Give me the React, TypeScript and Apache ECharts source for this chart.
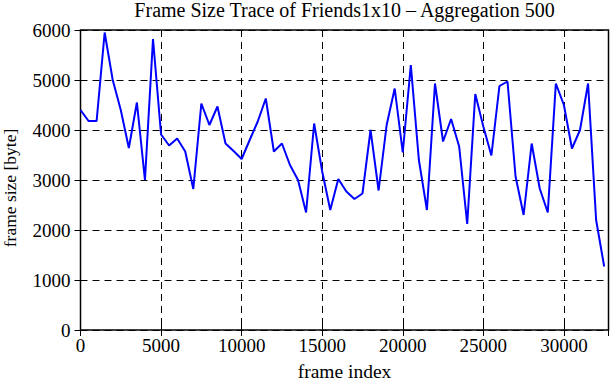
import React, { useEffect, useRef } from "react";
import * as echarts from "echarts";

const frameIndex = [
  0, 500, 1000, 1500, 2000, 2500, 3000, 3500, 4000, 4500,
  5000, 5500, 6000, 6500, 7000, 7500, 8000, 8500, 9000, 9500,
  10000, 10500, 11000, 11500, 12000, 12500, 13000, 13500, 14000, 14500,
  15000, 15500, 16000, 16500, 17000, 17500, 18000, 18500, 19000, 19500,
  20000, 20500, 21000, 21500, 22000, 22500, 23000, 23500, 24000, 24500,
  25000, 25500, 26000, 26500, 27000, 27500, 28000, 28500, 29000, 29500,
  30000, 30500, 31000, 31500, 32000, 32500,
];

const frameSize = [
  4400, 4180, 4180, 5950, 5000, 4400, 3640, 4550, 3000, 5820,
  3910, 3690, 3830, 3570, 2820, 4530, 4100, 4470, 3730, 3580,
  3420, 3800, 4170, 4630, 3570, 3730, 3300, 3000, 2350, 4130,
  3170, 2400, 3020, 2770, 2620, 2730, 4000, 2790, 4100, 4830,
  3550, 5300, 3400, 2400, 4930, 3770, 4220, 3670, 2120, 4720,
  4070, 3490, 4880, 4970, 3070, 2300, 3730, 2830, 2350, 4930,
  4500, 3630, 4000, 4930, 2200, 1270,
];

const titleText = "Frame Size Trace of Friends1x10 \u2013 Aggregation 500";
const xName = "frame index";
const yName = "frame size [byte]";

const FONT = "'Liberation Serif', serif";

export default function App() {
  const ref = useRef<HTMLDivElement>(null);
  useEffect(() => {
    if (!ref.current) return;
    const chart = echarts.init(ref.current, undefined, { renderer: "svg" });
    const data = frameIndex.map((f, i) => [f, frameSize[i]]);
    const gridLine = { show: true, lineStyle: { color: "#000", type: [7, 5] as any, width: 1 } };
    const tickIn = { show: true, inside: true, length: 6, lineStyle: { color: "#000", width: 1 } };
    const label = { color: "#000", fontFamily: FONT, fontSize: 19 };
    const rich = { s: { color: "#000", fontFamily: FONT, fontSize: 19 } };
    chart.setOption({
      animation: false,
      backgroundColor: "#fff",
      textStyle: { fontFamily: FONT, fontSize: 19, color: "#000" },
      graphic: [
        {
          type: "text",
          x: 344.6,
          y: 0,
          style: {
            text: titleText,
            fill: "#000",
            font: `20px ${FONT}`,
            textAlign: "center",
            textVerticalAlign: "top",
          },
        },
        {
          type: "text",
          x: 9.5,
          y: 188,
          rotation: Math.PI / 2,
          style: {
            text: yName,
            fill: "#000",
            font: `17.5px ${FONT}`,
            textAlign: "center",
            textVerticalAlign: "middle",
          },
        },
      ],
      grid: {
        left: 80.5,
        right: 2.5,
        top: 30,
        bottom: 50,
        show: true,
        borderColor: "#000",
        borderWidth: 1.5,
        backgroundColor: "transparent",
        containLabel: false,
        outerBoundsMode: "none",
      },
      xAxis: [
        {
          type: "value",
          min: 0,
          max: 32768,
          interval: 5000,
          position: "bottom",
          axisLine: { show: false },
          axisTick: tickIn,
          splitLine: gridLine,
          axisLabel: {
            ...label,
            rich,
            margin: 6,
            showMaxLabel: false,
            formatter: (v: number) => (v % 5000 === 0 ? `{s|${v}}` : ""),
          },
          name: xName,
          nameLocation: "middle",
          nameGap: 31,
          nameTextStyle: { ...label, fontSize: 19.5 },
        },
        {
          type: "value",
          min: 0,
          max: 32768,
          interval: 5000,
          position: "top",
          axisLine: { show: false },
          axisTick: tickIn,
          splitLine: { show: false },
          axisLabel: { show: false },
        },
      ],
      yAxis: [
        {
          type: "value",
          min: 0,
          max: 6000,
          interval: 1000,
          position: "left",
          axisLine: { show: false },
          axisTick: tickIn,
          splitLine: gridLine,
          axisLabel: { ...label, rich, margin: 10, formatter: (v: number) => `{s|${v}}` },
        },
        {
          type: "value",
          min: 0,
          max: 6000,
          interval: 1000,
          position: "right",
          axisLine: { show: false },
          axisTick: tickIn,
          splitLine: { show: false },
          axisLabel: { show: false },
        },
      ],
      series: [
        {
          type: "line",
          data,
          showSymbol: false,
          symbol: "none",
          lineStyle: { color: "#0000ff", width: 2 },
          xAxisIndex: 0,
          yAxisIndex: 0,
        },
      ],
    });
    return () => chart.dispose();
  }, []);
  return (
    <div
      ref={ref}
      style={{ position: "absolute", left: 0, top: 0, width: 611, height: 380, background: "#fff" }}
    />
  );
}
